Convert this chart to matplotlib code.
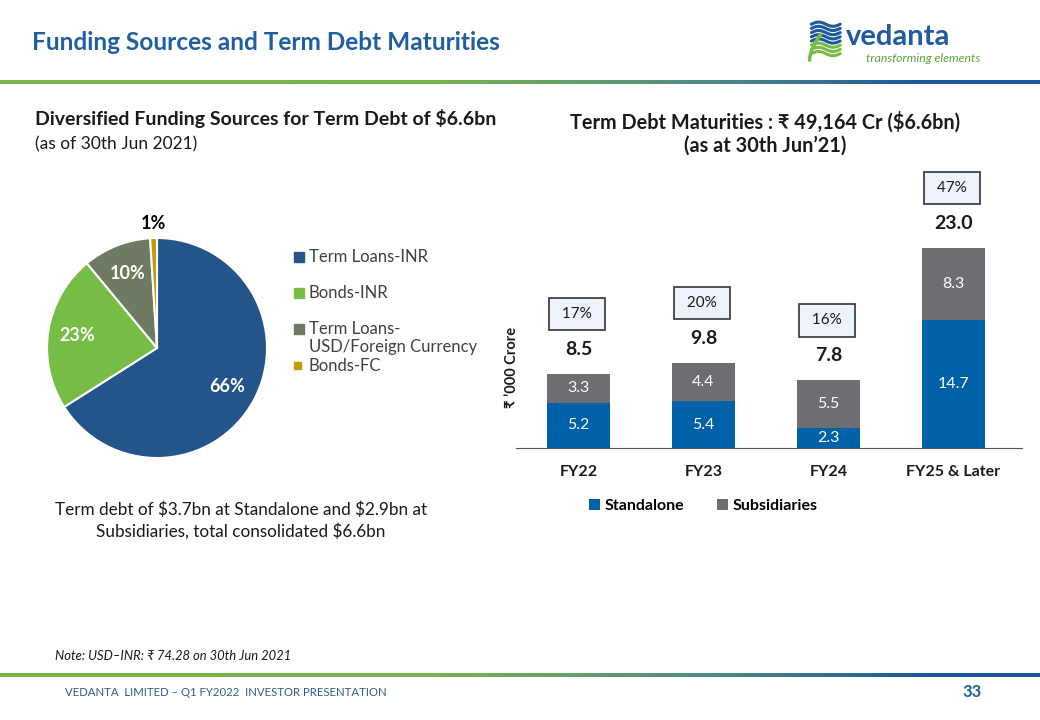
import numpy as np
import matplotlib.pyplot as plt
from matplotlib.colors import LinearSegmentedColormap
from matplotlib.patches import Rectangle

plt.rcParams['font.family'] = ['Lato', 'DejaVu Sans']

# pie data
pie_labels = ["Term Loans-INR", "Bonds-INR", "Term Loans-\nUSD/Foreign Currency", "Bonds-FC"]
pie_values = [66, 23, 10, 1]
pie_colors = ["#23558A", "#77BD45", "#6E7A62", "#C8960F"]

# bar data
years = ["FY22", "FY23", "FY24", "FY25 & Later"]
standalone = [5.2, 5.4, 2.3, 14.7]
subsidiaries = [3.3, 4.4, 5.5, 8.3]
totals = [8.5, 9.8, 7.8, 23.0]
shares = ["17%", "20%", "16%", "47%"]

W, H = 1040, 720


def fx(px):
    return px / W


def fy(py):
    return 1 - py / H


fig = plt.figure(figsize=(10.4, 7.2), dpi=100)
fig.patch.set_facecolor('white')

# gradient rules
cmap_line = LinearSegmentedColormap.from_list(
    'rule', [(0, '#7AB648'), (0.42, '#78B34C'), (0.68, '#4E8C86'), (0.88, '#1F5A9E'), (1, '#1D579E')])
for top in (80, 673):
    lax = fig.add_axes([0, fy(top + 4), 1, 4 / H])
    lax.imshow(np.linspace(0, 1, 512)[None, :], cmap=cmap_line, aspect='auto')
    lax.axis('off')

# header
fig.text(fx(32), fy(42), "Funding Sources and Term Debt Maturities", fontsize=17.6, fontweight='bold',
         color='#1F5FA0', va='center', ha='left')

# logo
lg = fig.add_axes([fx(806), fy(62), 36 / W, 42 / H])
t = np.linspace(0, 1, 50)
for i in range(8):
    yy = 0.9 - i * 0.1 + 0.05 * np.sin(t * np.pi * 2)
    col = '#1F5A9E' if i < 5 else '#77BD45'
    lg.plot(0.15 + 0.8 * t, yy, color=col, lw=2.2, solid_capstyle='round')
lg.plot(0.1 + 0.3 * t, 0.05 + 0.6 * t ** 0.6, color='#77BD45', lw=2.5)
lg.set_xlim(0, 1)
lg.set_ylim(0, 1)
lg.axis('off')
fig.text(fx(846), fy(37), "vedanta", fontsize=21, fontweight='bold', color='#1E5BA0', va='center', ha='left')
fig.text(fx(866), fy(58), "transforming elements", fontsize=8.8, style='italic', color='#5BA33E',
         va='center', ha='left')

# left headings
fig.text(fx(35), fy(118), "Diversified Funding Sources for Term Debt of \\$6.6bn", fontsize=14,
         fontweight='bold', color='#1a1a1a', va='center', ha='left')
fig.text(fx(35), fy(144), "(as of 30th Jun 2021)", fontsize=12.5, color='#1a1a1a', va='center', ha='left')

# pie
pax = fig.add_axes([fx(47), fy(458), 220 / W, 220 / H])
wedges, texts, autotexts = pax.pie(pie_values, colors=pie_colors, startangle=90, counterclock=False,
                                   autopct='%d%%', pctdistance=0.73,
                                   wedgeprops=dict(edgecolor='white', linewidth=1.5),
                                   textprops=dict(color='white', fontsize=13, fontweight='bold'))
autotexts[-1].set_color('black')
ang = np.deg2rad(90 - 360 * (1 - pie_values[-1] / 200))
autotexts[-1].set_position((1.13 * np.cos(ang), 1.13 * np.sin(ang)))
pax.set_xlim(-1, 1)
pax.set_ylim(-1, 1)

# pie legend, laid out like the slide
leg_y = [257, 293, 338, 366]
for lab, col, yy, sq in zip(pie_labels, pie_colors, leg_y, [10, 10, 10, 7]):
    first_line_y = yy - 9 if '\n' in lab else yy
    fig.patches.append(Rectangle((fx(294), fy(first_line_y + sq / 2)), sq / W, sq / H,
                                 color=col, transform=fig.transFigure))
    fig.text(fx(309), fy(yy), lab, fontsize=12, color='#404040', ha='left', va='center',
             linespacing=1.15)

fig.text(fx(241), fy(521), "Term debt of \\$3.7bn at Standalone and \\$2.9bn at\nSubsidiaries, total consolidated \\$6.6bn",
         fontsize=12.3, color='#1a1a1a', ha='center', va='center', linespacing=1.35)

# right headings
fig.text(fx(765), fy(122), "Term Debt Maturities : \u20b9 49,164 Cr (\\$6.6bn)", fontsize=14.3, fontweight='bold',
         color='#1a1a1a', ha='center', va='center')
fig.text(fx(765), fy(146), "(as at 30th Jun\u201921)", fontsize=14.3, fontweight='bold',
         color='#1a1a1a', ha='center', va='center')

# bars
bax = fig.add_axes([fx(516), fy(448), (1022 - 516) / W, 261 / H])
x = np.arange(len(years))
bax.bar(x, standalone, width=0.5, color='#0060A8', label='Standalone')
bax.bar(x, subsidiaries, width=0.5, bottom=standalone, color='#6D6E71', label='Subsidiaries')
for i in range(len(years)):
    bax.text(x[i], standalone[i] / 2, f"{standalone[i]:.1f}", color='white', fontsize=11.5,
             ha='center', va='center')
    bax.text(x[i], standalone[i] + subsidiaries[i] / 2, f"{subsidiaries[i]:.1f}", color='white',
             fontsize=11.5, ha='center', va='center')
    bax.annotate(f"{totals[i]:.1f}", (x[i], totals[i]), xytext=(0, 17.5), textcoords='offset points',
                 ha='center', va='center', fontsize=14, fontweight='bold', color='#1a1a1a')
    bax.annotate(f" {shares[i]} ", (x[i], totals[i]), xytext=(-1, 43), textcoords='offset points',
                 ha='center', va='center', fontsize=11, color='#1a1a1a',
                 bbox=dict(boxstyle='square,pad=0.6', facecolor='#EEF2FA', edgecolor='#333333', lw=1.2))
bax.set_xlim(-0.5, 3.55)
bax.set_ylim(0, 30)
bax.set_xticks(x)
bax.set_xticklabels(years, fontsize=11.5, fontweight='bold', color='#1a1a1a')
bax.tick_params(axis='x', length=0, pad=12)
bax.set_yticks([])
for s in ('top', 'right', 'left'):
    bax.spines[s].set_visible(False)
bax.spines['bottom'].set_color('#555555')
bax.set_ylabel("\u20b9 \u2019000 Crore", fontsize=10.5, fontweight='bold', labelpad=0, color='#1a1a1a')
bax.yaxis.set_label_coords(0.005, 0.31)
bax.legend(loc='upper center', bbox_to_anchor=(0.37, -0.14), ncol=2, frameon=False,
           handlelength=0.7, handleheight=0.7, handletextpad=0.3, columnspacing=2.0,
           prop=dict(weight='bold', size=11.5))

# note and footer
fig.text(fx(55), fy(656), "Note: USD\u2013INR: \u20b9 74.28 on 30th Jun 2021", fontsize=9.4, style='italic',
         color='#1a1a1a', ha='left', va='center')
fig.text(fx(65), fy(693), "VEDANTA  LIMITED \u2013 Q1 FY2022  INVESTOR PRESENTATION", fontsize=8.2,
         color='#2E5C8A', ha='left', va='center')
fig.text(fx(972), fy(692), "33", fontsize=12, fontweight='bold', color='#1F5FA0', ha='center', va='center')

fig.savefig('out.png', dpi=100)
